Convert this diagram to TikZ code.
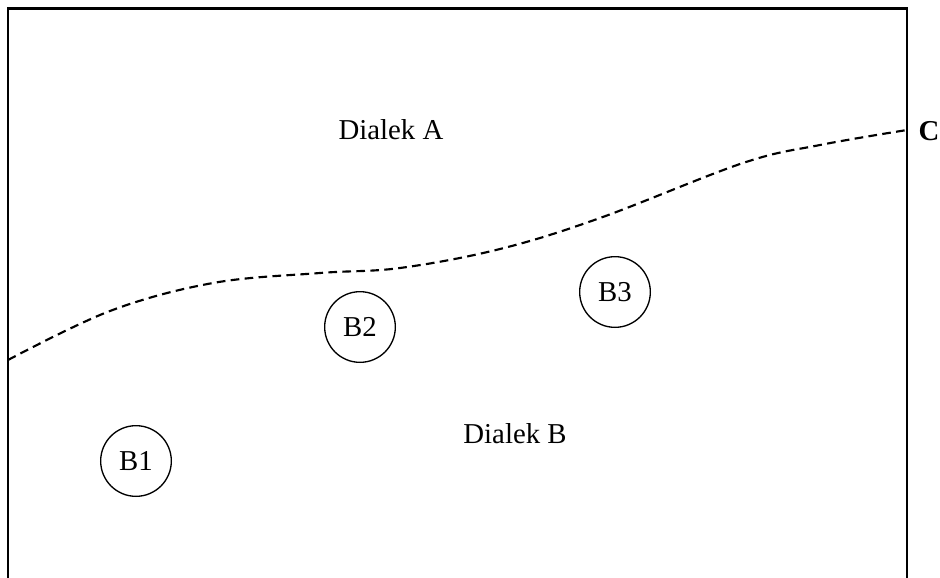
\documentclass[tikz,border=0pt]{standalone}
\usepackage{fontspec}
\setmainfont{Liberation Serif}
\begin{document}
\begin{tikzpicture}[x=0.75pt,y=-0.75pt,
  lbl/.style={font=\fontsize{21.6}{25}\selectfont, inner sep=0pt},
  village/.style={circle, draw, line width=1pt, minimum size=53pt, inner sep=0pt, font=\fontsize{21.6}{25}\selectfont},
  border/.style={line width=1.6pt},
  isogloss/.style={line width=1.6pt, dash pattern=on 6.5pt off 4pt}]
\useasboundingbox (0,0) rectangle (940,578);
\draw[border] (8,580) -- (8,8.5) -- (907,8.5) -- (907,580);
\coordinate (cL) at (8,360);
\coordinate (cR) at (907,130);
\draw[isogloss] plot[smooth, tension=0.6] coordinates {(8,360) (110,311) (213,283) (320,273) (400,268) (500,249) (600,218) (743,163) (820,145) (907,130)};
\node[lbl] (dA) at (391,130) {Dialek A};
\node[lbl] (dB) at (515,434) {Dialek B};
\node[lbl, font=\fontsize{21.6}{25}\selectfont\bfseries] (C) at (929,131) {C};
\node[village] (b1) at (136,461) {B1};
\node[village] (b2) at (360,327) {B2};
\node[village] (b3) at (615,292) {B3};
\end{tikzpicture}
\end{document}
